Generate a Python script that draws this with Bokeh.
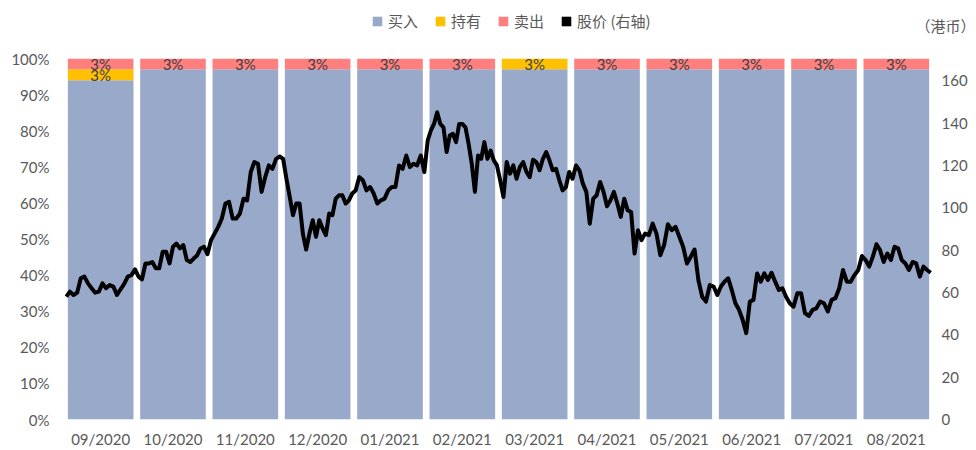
from bokeh.plotting import figure
from bokeh.models import (ColumnDataSource, Range1d, LinearAxis, FixedTicker,
                          PrintfTickFormatter, Legend, LegendItem)
from bokeh.layouts import column, row
from bokeh.core.properties import value
from bokeh.embed import file_html
from bokeh.resources import INLINE

# ---------------- data ----------------
months = ["09/2020", "10/2020", "11/2020", "12/2020", "01/2021", "02/2021",
          "03/2021", "04/2021", "05/2021", "06/2021", "07/2021", "08/2021"]
buy = [94, 97, 97, 97, 97, 97, 97, 97, 97, 97, 97, 97]
hold = [3, 0, 0, 0, 0, 0, 3, 0, 0, 0, 0, 0]
sell = [3, 3, 3, 3, 3, 3, 0, 3, 3, 3, 3, 3]

pct_ticks = [0, 10, 20, 30, 40, 50, 60, 70, 80, 90, 100]
price_ticks = [0, 20, 40, 60, 80, 100, 120, 140, 160]
price_axis_max = 170.5

legend_labels = ["买入", "持有", "卖出", "股价 (右轴)"]
unit_text = "（港币）"

# daily share price (HKD), one list per month
price_sep20 = [58.0, 60.4, 58.8, 59.9, 66.7, 67.5, 64.3, 62.0, 59.9, 60.4, 64.3, 62.0, 63.5, 62.8, 58.8, 61.5, 64.0, 67.5, 68.2, 70.9]
price_oct20 = [67.5, 66.2, 73.7, 73.7, 74.4, 71.4, 71.4, 79.2, 79.2, 73.7, 81.6, 83.1, 80.8, 82.4, 75.3, 74.4, 76.0, 77.5, 80.8, 81.6, 78.1]
price_nov20 = [84.7, 87.8, 91.0, 94.9, 102.0, 102.8, 94.9, 94.9, 97.3, 104.3, 103.5, 116.9, 121.6, 120.8, 107.5, 114.5, 120.0, 118.4, 123.1, 124.2]
price_dec20 = [123.1, 113.7, 105.1, 96.5, 102.0, 102.0, 87.8, 80.3, 87.8, 94.1, 86.3, 94.1, 90.2, 87.1, 97.3, 96.5, 104.3, 105.9, 105.9, 102.0, 103.5, 106.7]
price_jan21 = [108.2, 114.5, 113.0, 108.2, 109.8, 106.7, 102.0, 103.5, 104.3, 108.2, 109.8, 109.8, 120.0, 118.4, 124.7, 119.2, 120.8, 120.0, 124.7, 116.9]
price_feb21 = [131.8, 136.5, 139.6, 145.1, 139.6, 138.0, 126.3, 134.1, 134.9, 131.0, 139.6, 139.6, 138.0, 130.2, 120.8, 107.5, 124.7, 123.1, 131.0, 123.1, 127.0, 122.4, 120.0]
price_mar21 = [113.0, 105.1, 121.6, 116.1, 120.0, 113.7, 119.2, 121.6, 116.9, 114.5, 122.7, 121.6, 117.7, 123.1, 126.3, 122.4, 117.7, 118.4, 113.0, 108.2, 109.8, 116.9]
price_apr21 = [113.7, 120.0, 117.7, 111.4, 107.5, 92.5, 104.3, 105.9, 112.2, 107.5, 100.7, 103.5, 107.5, 102.0, 95.7, 104.3, 98.8, 98.0, 78.4, 89.4, 84.7]
price_may21 = [87.8, 87.1, 92.5, 87.8, 77.6, 82.4, 92.2, 89.4, 91.0, 86.3, 81.6, 73.7, 76.9, 80.3, 65.9, 58.0, 55.7, 63.5, 62.8]
price_jun21 = [58.8, 62.8, 65.1, 66.7, 61.2, 54.9, 51.8, 47.1, 40.8, 55.7, 56.5, 69.0, 65.1, 69.0, 65.9, 69.3, 65.1, 61.2, 62.0, 58.0]
price_jul21 = [54.9, 53.3, 59.6, 59.6, 50.2, 48.9, 51.8, 52.5, 55.7, 54.9, 51.0, 56.5, 57.3, 62.0, 70.6, 65.1, 65.1, 68.2, 70.6]
price_aug21 = [77.2, 75.3, 72.2, 76.9, 82.8, 80.0, 74.4, 78.4, 75.3, 81.6, 80.8, 75.3, 73.7, 70.6, 74.4, 73.7, 67.5, 72.2, 70.6, 69.3]

prices_by_month = [price_sep20, price_oct20, price_nov20, price_dec20, price_jan21, price_feb21,
                   price_mar21, price_apr21, price_may21, price_jun21, price_jul21, price_aug21]

# ---------------- styling ----------------
BLUE = "#98A9CA"
GOLD = "#FFC000"
PINK = "#FF7F7F"
AXIS_TXT = "#595959"
NUM_FONT = "Lato"
CJK_FONT = "Noto Sans CJK SC"
W = 976
TOP_H = 44
MAIN_H = 406

# ---------------- main chart ----------------
p = figure(width=W, height=MAIN_H, x_range=Range1d(0, 12), y_range=Range1d(0, 100),
           output_backend="svg", toolbar_location=None,
           min_border_left=64, min_border_right=44, min_border_top=14, min_border_bottom=30)
p.outline_line_color = None
p.xgrid.visible = False
p.ygrid.visible = False
p.background_fill_color = "white"
p.border_fill_color = "white"

xs_bar = [i + 0.5 for i in range(len(months))]
src = ColumnDataSource(dict(x=xs_bar, buy=buy, hold=hold, sell=sell))
bars = p.vbar_stack(["buy", "hold", "sell"], x="x", width=0.907, source=src,
                    fill_color=[BLUE, GOLD, PINK], line_color=None)

lx, ly, lt = [], [], []
for i in range(len(months)):
    if hold[i] > 0:
        lx.append(xs_bar[i]); ly.append(buy[i] + hold[i] / 2); lt.append(f"{hold[i]}%")
    if sell[i] > 0:
        lx.append(xs_bar[i]); ly.append(buy[i] + hold[i] + sell[i] / 2); lt.append(f"{sell[i]}%")
p.text(x=lx, y=ly, text=lt, text_align="center", text_baseline="middle",
       text_font=value(NUM_FONT), text_font_size="15px", text_color="#404040")

p.extra_y_ranges = {"price": Range1d(0, price_axis_max)}
lxs, lys = [], []
for m, vals in enumerate(prices_by_month):
    n = len(vals)
    for k, v in enumerate(vals):
        lxs.append(m + (k + 0.5) / n)
        lys.append(v)
p.line(lxs, lys, y_range_name="price", line_color="black", line_width=4, line_join="round")

p.xaxis.ticker = FixedTicker(ticks=xs_bar)
p.xaxis.major_label_overrides = {x: m for x, m in zip(xs_bar, months)}
p.yaxis.ticker = FixedTicker(ticks=pct_ticks)
p.yaxis.formatter = PrintfTickFormatter(format="%d%%")

right = LinearAxis(y_range_name="price", ticker=FixedTicker(ticks=price_ticks))
p.add_layout(right, "right")

for ax, standoff in ((p.xaxis[0], 10), (p.yaxis[0], 15), (right, 9)):
    ax.axis_line_color = None
    ax.major_tick_line_color = None
    ax.minor_tick_line_color = None
    ax.major_tick_out = 0
    ax.major_tick_in = 0
    ax.major_label_standoff = standoff
    ax.major_label_text_font = NUM_FONT
    ax.major_label_text_font_size = "15px"
    ax.major_label_text_color = AXIS_TXT

# ---------------- header strip: legend + unit of right axis ----------------
h = figure(width=W, height=TOP_H, x_range=Range1d(0, W), y_range=Range1d(0, TOP_H),
           output_backend="svg", toolbar_location=None,
           min_border_left=0, min_border_right=0, min_border_top=0, min_border_bottom=0)
h.axis.visible = False
h.grid.visible = False
h.outline_line_color = None
h.background_fill_color = "white"
h.border_fill_color = "white"

# legend swatch renderers (their single quad lies outside the visible range)
swatches = [h.quad(left=[-20], right=[-10], top=[-10], bottom=[-20], fill_color=c, line_color=None)
            for c in (BLUE, GOLD, PINK, "black")]
legend = Legend(items=[LegendItem(label=t, renderers=[r]) for t, r in zip(legend_labels, swatches)],
                orientation="horizontal", location=(371, 13),
                glyph_width=12, glyph_height=12, label_standoff=5, spacing=16,
                padding=0, margin=0, border_line_color=None, background_fill_alpha=0,
                label_text_font=CJK_FONT, label_text_font_size="15px",
                label_text_color=AXIS_TXT)
h.add_layout(legend)

h.text(x=[W - 1], y=[TOP_H - 25], text=[unit_text], text_align="right", text_baseline="middle",
       text_font=value(CJK_FONT), text_font_size="15px", text_color=AXIS_TXT)

layout = column(row(h), p, spacing=0)
open("out.html", "w").write(file_html(layout, INLINE))
